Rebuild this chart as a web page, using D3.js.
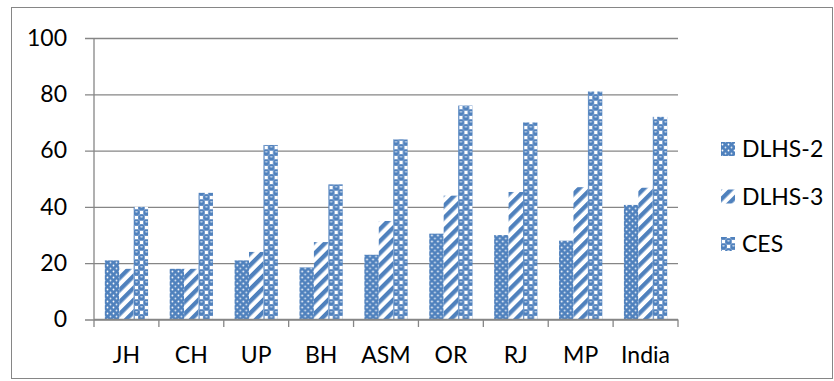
<!DOCTYPE html>
<html>
<head>
<meta charset="utf-8">
<script src="https://cdn.jsdelivr.net/npm/d3@7"></script>
<style>
  html, body { margin: 0; padding: 0; background: #fff; }
  svg { display: block; }
  text { font-family: Lato, "Open Sans", sans-serif; fill: #000; }
</style>
</head>
<body>
<svg id="chart" width="834" height="381"></svg>
<script>
const categories = ["JH", "CH", "UP", "BH", "ASM", "OR", "RJ", "MP", "India"];
const seriesNames = ["DLHS-2", "DLHS-3", "CES"];
const dlhs2 = [21, 18, 21, 18.5, 23, 30.5, 30, 28, 40.7];
const dlhs3 = [18, 18, 24, 27.5, 35, 44, 45.3, 47, 46.8];
const ces = [40, 45, 62, 48, 64, 76, 70, 81, 72];
const yTicks = [0, 20, 40, 60, 80, 100];

const values = [dlhs2, dlhs3, ces];
const rows = categories.map((c, i) => ({
  cat: c,
  vals: seriesNames.map((s, k) => ({ series: s, k, value: values[k][i] }))
}));

const svg = d3.select("#chart");
const blue = "#4F81BD";
const grid = "#868686";
const FS = 23;

// Patterns
const defs = svg.append("defs");
// DLHS-2: blue with white dots
const p1 = defs.append("pattern").attr("id", "pat0").attr("patternUnits", "userSpaceOnUse")
  .attr("width", 6).attr("height", 6);
p1.append("rect").attr("width", 6).attr("height", 6).attr("fill", blue);
p1.append("circle").attr("cx", 1.5).attr("cy", 1.5).attr("r", 0.9).attr("fill", "#fff");
p1.append("circle").attr("cx", 4.5).attr("cy", 4.5).attr("r", 0.9).attr("fill", "#dbe5f1");
// DLHS-3: wide upward diagonal stripes
const p2 = defs.append("pattern").attr("id", "pat1").attr("patternUnits", "userSpaceOnUse")
  .attr("width", 8.5).attr("height", 8.5).attr("patternTransform", "rotate(45)");
p2.append("rect").attr("width", 8.5).attr("height", 8.5).attr("fill", "#fff");
p2.append("rect").attr("width", 4.3).attr("height", 8.5).attr("fill", blue);
// CES: sphere pattern
const p3 = defs.append("pattern").attr("id", "pat2").attr("patternUnits", "userSpaceOnUse")
  .attr("width", 10).attr("height", 10);
p3.append("rect").attr("width", 10).attr("height", 10).attr("fill", "#fff");
p3.append("rect").attr("x", 5.5).attr("y", 0.5).attr("width", 4).attr("height", 4)
  .attr("fill", "none").attr("stroke", "#7fa2cf").attr("stroke-width", 1);
p3.append("rect").attr("x", 0.5).attr("y", 5.5).attr("width", 4).attr("height", 4)
  .attr("fill", "none").attr("stroke", "#7fa2cf").attr("stroke-width", 1);
[[2.5, 2.5], [7.5, 7.5]].forEach(([cx, cy]) => {
  p3.append("circle").attr("cx", cx).attr("cy", cy).attr("r", 3.1).attr("fill", blue);
  p3.append("ellipse").attr("cx", cx).attr("cy", cy - 0.7).attr("rx", 1.4).attr("ry", 0.6).attr("fill", "#e8eef7");
});
const fills = ["url(#pat0)", "url(#pat1)", "url(#pat2)"];

// Outer border
svg.append("rect").attr("x", 11.5).attr("y", 7.5).attr("width", 821).attr("height", 371)
  .attr("fill", "none").attr("stroke", grid).attr("stroke-width", 1);

// Scales
const x0 = d3.scaleBand().domain(categories).range([94, 678]).padding(0);
const gap = x0.bandwidth() * 1.5 / 4.5;
const x1 = d3.scaleBand().domain(seriesNames).range([gap / 2, x0.bandwidth() - gap / 2]).padding(0);
const y = d3.scaleLinear().domain([0, 100]).range([319.5, 38]);

// Y gridlines + labels
const yAxis = svg.append("g").attr("transform", "translate(85,0)")
  .call(d3.axisLeft(y).tickValues(yTicks).tickSizeInner(-(678 - 85)).tickSizeOuter(0).tickPadding(18));
yAxis.select(".domain").remove();
yAxis.selectAll(".tick line").attr("stroke", grid).attr("stroke-width", 1.3);
yAxis.selectAll(".tick text").attr("font-size", FS).attr("font-family", "Lato, 'Open Sans', sans-serif").attr("fill", "#000");

// Y axis line
svg.append("line").attr("x1", 94).attr("x2", 94).attr("y1", y(100)).attr("y2", y(0))
  .attr("stroke", grid).attr("stroke-width", 1.3);

// Bars
const groups = svg.append("g").selectAll("g").data(rows).join("g")
  .attr("transform", d => `translate(${x0(d.cat)},0)`);
groups.selectAll("rect").data(d => d.vals).join("rect")
  .attr("x", d => x1(d.series))
  .attr("width", x1.bandwidth())
  .attr("y", d => y(d.value))
  .attr("height", d => y(0) - y(d.value))
  .attr("fill", d => fills[d.k]);

// X axis
const xAxis = svg.append("g").attr("transform", `translate(0,${y(0)})`)
  .call(d3.axisBottom(x0).tickSize(0).tickPadding(27));
xAxis.select(".domain").remove();
xAxis.selectAll(".tick text").attr("font-size", FS).attr("font-family", "Lato, 'Open Sans', sans-serif").attr("fill", "#000");
svg.append("line").attr("x1", 94).attr("x2", 678).attr("y1", y(0)).attr("y2", y(0))
  .attr("stroke", grid).attr("stroke-width", 1.3);
const bounds = categories.map(c => x0(c)).concat([x0.range()[1]]);
svg.append("g").selectAll("line").data(bounds).join("line")
  .attr("x1", d => d).attr("x2", d => d)
  .attr("y1", y(0)).attr("y2", y(0) + 7.5)
  .attr("stroke", grid).attr("stroke-width", 1.3);

// Legend
const legendY = [149, 196.5, 244];
const lg = svg.append("g").selectAll("g").data(seriesNames).join("g")
  .attr("transform", (d, i) => `translate(721,${legendY[i]})`);
lg.append("rect").attr("x", 0).attr("y", -7).attr("width", 14).attr("height", 14)
  .attr("fill", (d, i) => fills[i]);
lg.append("text").attr("x", 21).attr("y", 0).attr("dy", "0.35em")
  .attr("font-size", FS).text(d => d);
</script>
</body>
</html>
